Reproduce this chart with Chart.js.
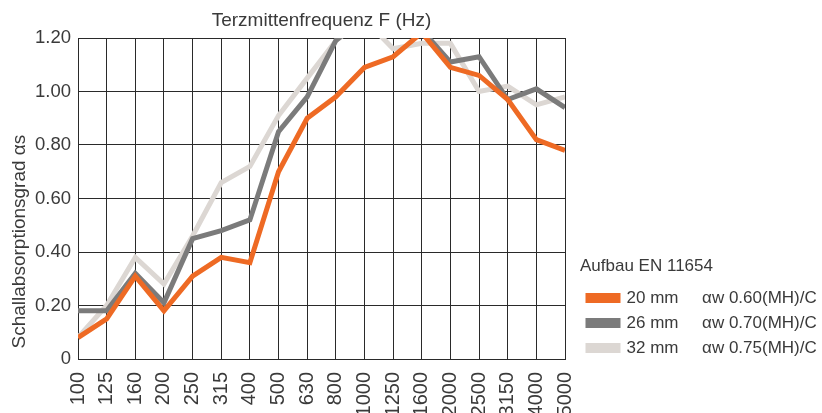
<!DOCTYPE html>
<html>
<head>
<meta charset="utf-8">
<script src="https://cdn.jsdelivr.net/npm/chart.js@4"></script>
<style>
  html, body { margin: 0; padding: 0; background: #fff; }
  #wrap { width: 822px; height: 413px; }
</style>
</head>
<body>
<div id="wrap"><canvas id="lineChart" width="822" height="413"></canvas></div>
<script>
var frequencies = ["100", "125", "160", "200", "250", "315", "400", "500", "630",
  "800", "1000", "1250", "1600", "2000", "2500", "3150", "4000", "5000"];
var yTicks = [0, 0.2, 0.4, 0.6, 0.8, 1.0, 1.2];

var alpha20 = [0.08, 0.15, 0.31, 0.18, 0.31, 0.38, 0.36, 0.70, 0.90,
  0.98, 1.09, 1.13, 1.22, 1.09, 1.06, 0.97, 0.82, 0.78];
var alpha26 = [0.18, 0.18, 0.32, 0.21, 0.45, 0.48, 0.52, 0.85, 0.98,
  1.19, 1.28, 1.26, 1.23, 1.11, 1.13, 0.97, 1.01, 0.94];
var alpha32 = [0.08, 0.20, 0.38, 0.28, 0.46, 0.66, 0.72, 0.91, 1.05,
  1.19, 1.27, 1.16, 1.18, 1.18, 1.00, 1.02, 0.95, 0.98];

var seriesLabels = [
  "20 mm     αw 0.60(MH)/C",
  "26 mm     αw 0.70(MH)/C",
  "32 mm     αw 0.75(MH)/C",
];

var textColor = "#3a3a3a";
var gridColor = "#2a2a2a";
var fontFamily = "'Liberation Sans', Arial, sans-serif";

function line(label, data, color) {
  return {
    label: label,
    data: data,
    borderColor: color,
    backgroundColor: color,
    borderWidth: 5,
    pointRadius: 0,
    tension: 0,
    clip: 0,
  };
}

var ctx = document.getElementById("lineChart").getContext("2d");
var lineChart = new Chart(ctx, {
  type: "line",
  data: {
    labels: frequencies,
    datasets: [
      line(seriesLabels[0], alpha20, "#ee6a24"),
      line(seriesLabels[1], alpha26, "#7b7b7b"),
      line(seriesLabels[2], alpha32, "#dcd7d3"),
    ],
  },
  options: {
    responsive: false,
    animation: false,
    layout: { padding: 0 },
    plugins: {
      tooltip: { enabled: false },
      legend: {
        position: "right",
        align: "start",
        maxWidth: 242,
        title: {
          display: true,
          text: "Aufbau EN 11654",
          position: "start",
          color: textColor,
          font: { family: fontFamily, size: 17 },
          padding: { top: 258, bottom: 3 },
        },
        labels: {
          color: textColor,
          font: { family: fontFamily, size: 17 },
          boxWidth: 30,
          boxHeight: 5,
          padding: 8,
        },
      },
    },
    scales: {
      x: {
        position: "bottom",
        afterFit: function (s) { s.height = 54; },
        grid: { color: gridColor, drawTicks: false },
        border: { color: gridColor },
        ticks: {
          color: textColor,
          font: { family: fontFamily, size: 20 },
          minRotation: 90,
          maxRotation: 90,
          autoSkip: false,
          padding: 13,
        },
      },
      x2: {
        type: "category",
        labels: frequencies,
        position: "top",
        afterFit: function (s) { s.height = 38; },
        grid: { display: false },
        border: { display: false },
        ticks: { display: false },
        title: {
          display: true,
          text: "Terzmittenfrequenz F (Hz)",
          color: textColor,
          font: { family: fontFamily, size: 19 },
          padding: { top: 9, bottom: 0 },
        },
      },
      y: {
        min: 0,
        max: 1.2,
        afterFit: function (s) { s.width = 78; },
        afterBuildTicks: function (s) {
          s.ticks = yTicks.map(function (v) { return { value: v }; });
        },
        grid: { color: gridColor, drawTicks: false },
        border: { color: gridColor },
        ticks: {
          color: textColor,
          font: { family: fontFamily, size: 18.5 },
          padding: 7,
          callback: function (v) { return v === 0 ? "0" : v.toFixed(2); },
        },
        title: {
          display: true,
          align: "start",
          text: "  Schallabsorptionsgrad αs",
          color: textColor,
          font: { family: fontFamily, size: 19 },
          padding: { top: 8, bottom: 0 },
        },
      },
      y2: {
        position: "right",
        min: 0,
        max: 1.2,
        afterFit: function (s) { s.width = 15; },
        grid: { display: false },
        border: { display: false },
        ticks: { display: false },
      },
    },
  },
});
</script>
</body>
</html>
